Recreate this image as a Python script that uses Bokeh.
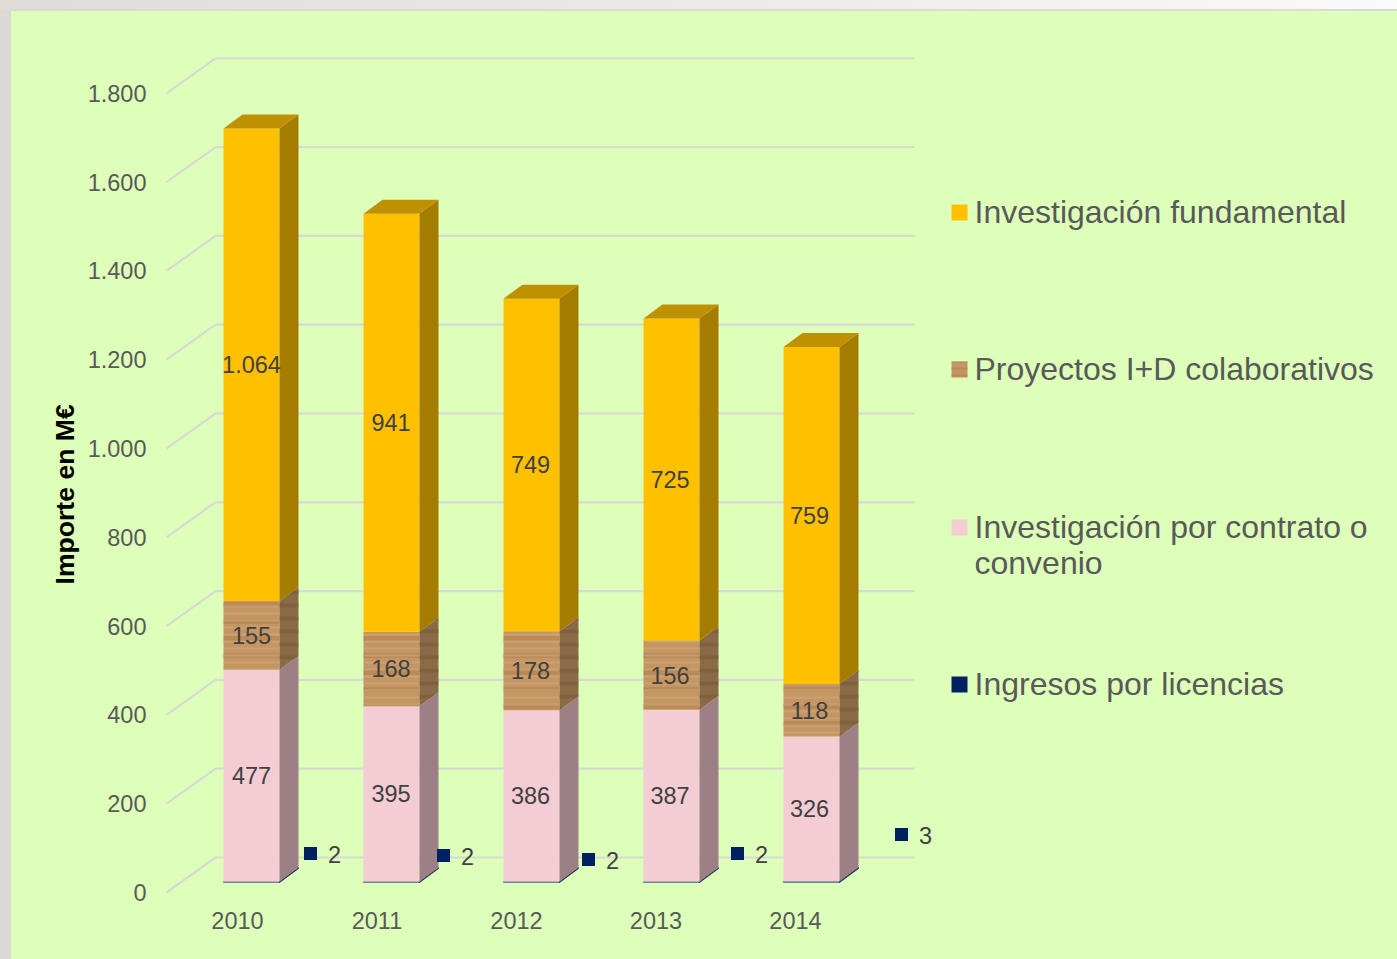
from bokeh.plotting import figure
from bokeh.embed import file_html
from bokeh.resources import INLINE
from bokeh.core.properties import value
from bokeh.models import (CustomJSTickFormatter, FixedTicker, GlobalInlineStyleSheet,
                          InlineStyleSheet, Range1d, Title)

years = ["2010", "2011", "2012", "2013", "2014"]
licencias = [2, 2, 2, 2, 3]
contrato = [477, 395, 386, 387, 326]
proyectos = [155, 168, 178, 156, 118]
fundamental = [1064, 941, 749, 725, 759]
contrato_labels = ["477", "395", "386", "387", "326"]
proyectos_labels = ["155", "168", "178", "156", "118"]
fundamental_labels = ["1.064", "941", "749", "725", "759"]
y_ticks = [0, 200, 400, 600, 800, 1000, 1200, 1400, 1600, 1800]
y_tick_labels = ["0", "200", "400", "600", "800", "1.000", "1.200", "1.400", "1.600", "1.800"]
legend_names = ["Investigación fundamental", "Proyectos I+D colaborativos",
                ["Investigación por contrato o", "convenio"], "Ingresos por licencias"]

W, H = 1397, 959
FRAME_L, FRAME_B = 160, 905
PX_Y = 0.444        # px per data unit
PX_X = 140.0        # px per category (bars)
LABEL_STEP = 139.5 / PX_X   # tick/label spacing relative to the bars
X0_PX, Y0_PX = 237, 892

FONT = "Liberation Sans"
BG = "#DDFFB9"
GRID = "#D9D9D4"
TXT = "#595959"
DARK = "#404040"


def px2x(px):
    return (px - X0_PX) / PX_X


def px2y(py):
    return (Y0_PX - py) / PX_Y


css_page = GlobalInlineStyleSheet(css="html,body{margin:0!important;padding:0;overflow:hidden}")
css_fig = InlineStyleSheet(css="""
:host{position:relative;background:#DDFFB9}
:host::before{content:"";position:absolute;left:0;top:0;width:11px;height:100%;background:#DCD9D4;z-index:5}
:host::after{content:"";position:absolute;left:0;top:0;width:100%;height:9px;border-bottom:2px solid #DADAD6;z-index:5;
background:linear-gradient(90deg,#DFDCD8 0%,#EFEEEB 64%,#FBFAFA 100%)}
""")

p = figure(width=W, height=H, output_backend="svg", toolbar_location=None,
           x_range=Range1d(px2x(FRAME_L), px2x(W)), y_range=Range1d(px2y(FRAME_B), px2y(0)),
           min_border_left=FRAME_L, min_border_right=0, min_border_top=0, min_border_bottom=H - FRAME_B,
           background_fill_color=None, border_fill_color=None, outline_line_color=None,
           stylesheets=[css_page, css_fig])
p.grid.visible = False

# axes
ya = p.yaxis[0]
ya.ticker = FixedTicker(ticks=y_ticks)
ya.major_label_overrides = {t: l for t, l in zip(y_ticks, y_tick_labels)}
ya.axis_line_color = None
ya.major_tick_line_color = None
ya.minor_tick_line_color = None
ya.major_label_text_font = FONT
ya.major_label_text_font_size = "23.5px"
ya.major_label_text_color = TXT
ya.major_label_standoff = 8
p.add_layout(Title(text="Importe en M€", align="left", offset=321, standoff=9,
                   text_font=FONT, text_font_size="26.6px", text_font_style="bold",
                   text_color="#000000"), "left")

label_pos = [i * LABEL_STEP for i in range(len(years))]
xa = p.xaxis[0]
xa.ticker = FixedTicker(ticks=label_pos)
xa.formatter = CustomJSTickFormatter(args=dict(names=years), code="return names[index]")
xa.axis_line_color = None
xa.major_tick_line_color = None
xa.minor_tick_line_color = None
xa.major_label_text_font = FONT
xa.major_label_text_font_size = "23.5px"
xa.major_label_text_color = TXT
xa.major_label_standoff = 0

# 3D depth in data units
WALL_DX, WALL_DY = 49 / PX_X, 35 / PX_Y
FRONT_DX, FRONT_DY = 14 / PX_X, 10 / PX_Y
BAR_DX, BAR_DY = 19 / PX_X, 14 / PX_Y
BAR_W = 56 / PX_X
LEFT = px2x(166)
RIGHT = px2x(914)

# gridlines: side wall + back wall
p.multi_line([[LEFT, LEFT + WALL_DX, RIGHT] for _ in y_ticks],
             [[t, t + WALL_DY, t + WALL_DY] for t in y_ticks],
             line_color=GRID, line_width=2.2)

series = [
    (licencias, "#6F8595", "#2A3F66", "#2A3F66", False),
    (contrato, "#F4CCD3", "#9C8085", "#9C8085", False),
    (proyectos, "#C49663", "#8A6A47", "#876744", True),
    (fundamental, "#FFC000", "#A37C00", "#BF9000", False),
]

for i in range(len(years)):
    xl = i + FRONT_DX - BAR_W / 2
    xr = xl + BAR_W
    base = FRONT_DY
    for vals, front, side, top, wood in series:
        b, t = base, base + vals[i]
        thin = vals is licencias
        p.quad(left=[xl], right=[xr], bottom=[b], top=[t], fill_color=front,
               line_color=front if thin else None, line_width=1)
        p.patch([xr, xr + BAR_DX, xr + BAR_DX, xr], [b, b + BAR_DY, t + BAR_DY, t],
                fill_color=side, line_color=side if thin else None, line_width=1)
        if wood:
            p.quad(left=[xl], right=[xr], bottom=[b], top=[t], fill_color=None, line_color=None,
                   hatch_pattern="horizontal_line", hatch_color="#AD7F4C", hatch_alpha=0.45,
                   hatch_scale=17, hatch_weight=5)
            p.quad(left=[xl], right=[xr], bottom=[b], top=[t], fill_color=None, line_color=None,
                   hatch_pattern="horizontal_line", hatch_color="#D4AC7E", hatch_alpha=0.5,
                   hatch_scale=7, hatch_weight=2)
            p.patch([xr, xr + BAR_DX, xr + BAR_DX, xr], [b, b + BAR_DY, t + BAR_DY, t],
                    fill_color=None, line_color=None,
                    hatch_pattern="horizontal_line", hatch_color="#6E5234", hatch_alpha=0.4,
                    hatch_scale=13, hatch_weight=4)
        base = t
    p.patch([xl, xr, xr + BAR_DX, xl + BAR_DX], [base, base, base + BAR_DY, base + BAR_DY],
            fill_color=series[-1][3], line_color=None)

# data labels
lx, ly, lt = [], [], []
for i in range(len(years)):
    b = FRONT_DY + licencias[i]
    for vals, labels in ((contrato, contrato_labels), (proyectos, proyectos_labels), (fundamental, fundamental_labels)):
        lx.append(label_pos[i] + FRONT_DX)
        ly.append(b + vals[i] / 2)
        lt.append(labels[i])
        b += vals[i]
p.text(lx, ly, text=lt, text_font=value(FONT), text_font_size="23.5px", text_color=DARK,
       text_align="center", text_baseline="middle")

# licence values: moved labels next to the bars
key_px = [310, 443, 588, 737, 901]
key_py = [853, 855, 859, 853, 834]
p.quad(left=[px2x(x - 6.5) for x in key_px], right=[px2x(x + 6.5) for x in key_px],
       bottom=[px2y(y + 6.5) for y in key_py], top=[px2y(y - 6.5) for y in key_py],
       fill_color="#002060", line_color=None)
p.text([px2x(x + 17.5) for x in key_px], [px2y(y + 0.7) for y in key_py], text=[str(v) for v in licencias],
       text_font=value(FONT), text_font_size="23.5px", text_color=DARK, text_align="left", text_baseline="middle")

# legend
leg_py = [212, 369, 527, 684]
leg_col = ["#FFC000", "#C49663", "#F4CCD3", "#002060"]
LH = 36.5
for name, py, col in zip(legend_names, leg_py, leg_col):
    extra = dict(hatch_pattern="horizontal_line", hatch_color="#AD7F4C", hatch_alpha=0.5,
                 hatch_scale=7, hatch_weight=2.5) if col == "#C49663" else {}
    p.quad(left=[px2x(951)], right=[px2x(967)], bottom=[px2y(py + 8)], top=[px2y(py - 8)],
           fill_color=col, line_color=None, **extra)
    lines = name if isinstance(name, list) else [name]
    for k, line in enumerate(lines):
        p.text([px2x(974)], [px2y(py - 1 + k * LH)], text=[line], text_font=value(FONT),
               text_font_size="32px", text_color=TXT, text_align="left", text_baseline="middle")

open("out.html", "w").write(file_html(p, INLINE))
